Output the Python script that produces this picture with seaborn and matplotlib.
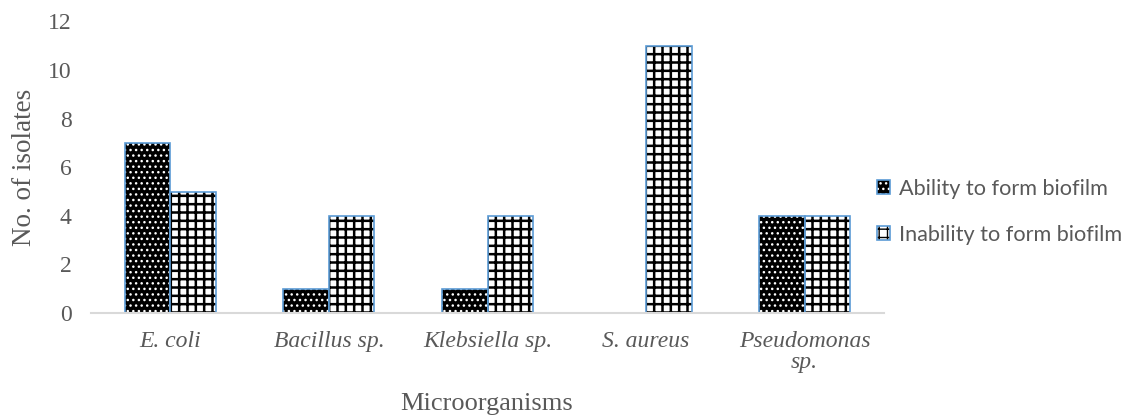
import matplotlib
matplotlib.use("Agg")
import matplotlib.pyplot as plt
from matplotlib.colors import to_rgba
from matplotlib.patches import Patch
import seaborn as sns
import pandas as pd

categories = ["E. coli", "Bacillus sp.", "Klebsiella sp.", "S. aureus", "Pseudomonas\nsp."]
ability = [7, 1, 1, 0, 4]
inability = [5, 4, 4, 11, 4]
series_names = ["Ability to form biofilm", "Inability to form biofilm"]

df = pd.DataFrame({
    "Microorganisms": categories * 2,
    "count": ability + inability,
    "series": [series_names[0]] * len(categories) + [series_names[1]] * len(categories),
})

sns.set_theme(style="white")

GRAY = "#595959"
EDGE = "#5B9BD5"
styles = {
    series_names[0]: dict(face="black", hatch="...", hcol="white", hlw=1.0),
    series_names[1]: dict(face="white", hatch="++", hcol="black", hlw=1.8),
}


def style_patch(p, st):
    p.set_facecolor(st["face"])
    p.set_edgecolor(EDGE)
    p.set_linewidth(1.2)
    p.set_hatch(st["hatch"])
    p._hatch_color = to_rgba(st["hcol"])
    if hasattr(p, "set_hatch_linewidth"):
        p.set_hatch_linewidth(st["hlw"])
    else:
        p._hatch_linewidth = st["hlw"]


fig = plt.figure(figsize=(11.31, 4.15), dpi=100)
ax = fig.add_axes([91 / 1131, 1 - 313 / 415, (884 - 91) / 1131, (313 - 21.4) / 415])

sns.barplot(data=df, x="Microorganisms", y="count", hue="series",
            hue_order=series_names, order=categories, width=0.575,
            palette=["black", "white"], ax=ax, legend=False)

for cont, name in zip(ax.containers, series_names):
    for p in cont.patches:
        style_patch(p, styles[name])
        if p.get_height() == 0:
            p.set_visible(False)

ax.set_ylim(0, 12)
ax.set_xlim(-0.5, len(categories) - 0.5)
ax.set_yticks(range(0, 13, 2))
for s in ["top", "right", "left"]:
    ax.spines[s].set_visible(False)
ax.spines["bottom"].set_color("#D9D9D9")
ax.spines["bottom"].set_linewidth(1.5)
ax.tick_params(axis="both", length=0)
ax.tick_params(axis="y", pad=14)
ax.tick_params(axis="x", pad=13)

for lab in ax.get_yticklabels():
    lab.set_fontfamily("Liberation Serif")
    lab.set_fontsize(17)
    lab.set_color(GRAY)
for lab in ax.get_xticklabels():
    lab.set_fontfamily("Liberation Serif")
    lab.set_fontstyle("italic")
    lab.set_fontsize(17)
    lab.set_color(GRAY)
    lab.set_linespacing(1.0)

ax.set_ylabel("No. of isolates", fontfamily="Liberation Serif", fontsize=19.5, color=GRAY)
ax.set_xlabel("Microorganisms", fontfamily="Liberation Serif", fontsize=19, color=GRAY)
ax.yaxis.set_label_coords(25 / 1131, (415 - 167) / 415, transform=fig.transFigure)
ax.xaxis.set_label_coords(487 / 1131, (415 - 404) / 415, transform=fig.transFigure)
ax.xaxis.label.set_va("center")
ax.yaxis.label.set_va("center")

handles = []
for name in series_names:
    h = Patch(label=name)
    style_patch(h, styles[name])
    handles.append(h)

leg = fig.legend(handles=handles, loc="center left", bbox_to_anchor=(877 / 1131, (415 - 211.5) / 415),
                 frameon=False, borderpad=0, borderaxespad=0, handlelength=0.6, handleheight=0.6,
                 handletextpad=0.4, labelspacing=1.2,
                 prop={"family": "Lato", "size": 15.6})
for t in leg.get_texts():
    t.set_color(GRAY)

fig.savefig("out.png", dpi=100)
